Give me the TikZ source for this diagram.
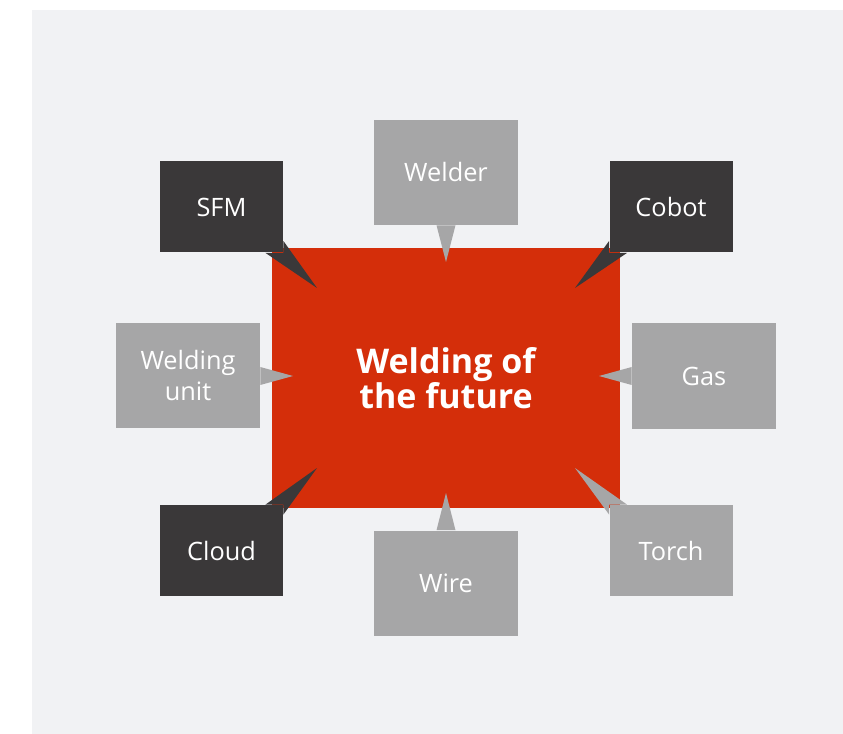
\documentclass[tikz,border=0pt]{standalone}
\usepackage{fontspec}
\setmainfont{Open Sans}
\usetikzlibrary{calc}
\definecolor{panelgray}{RGB}{241,242,244}
\definecolor{weldred}{RGB}{212,46,10}
\definecolor{darkgray}{RGB}{58,56,57}
\definecolor{lightgray}{RGB}{166,166,167}
\tikzset{
    topic/.style={inner sep=0pt,text=white,align=center,font=\fontsize{19}{23.7}\selectfont},
    cornerbox/.style={topic,minimum width=92.25pt,minimum height=68.25pt},
    sidebox/.style={topic,fill=lightgray,minimum width=108pt,minimum height=78.75pt},
}
\begin{document}
\begin{tikzpicture}[x=0.75pt,y=-0.75pt]
        \useasboundingbox (0,0) rectangle (843,734);
        %% Panel
        \fill[panelgray] (32,10) rectangle (843,734);
        %% Centre
        \node[fill=weldred,text=white,inner sep=0pt,minimum width=261pt,minimum height=195pt,align=center,
              font=\fontsize{25.5}{24.5}\bfseries] (core) at (446,378) {Welding of\\the future};
        %% Corner boxes
        \node[cornerbox,fill=darkgray] (sfm) at (221.5,207) {SFM};
        \node[cornerbox,fill=darkgray] (cobot) at (671,207) {Cobot};
        \node[cornerbox,fill=darkgray] (cloud) at (221.5,550.5) {Cloud};
        \node[cornerbox,fill=lightgray] (torch) at (671,550.5) {Torch};
        %% Side boxes
        \node[sidebox] (unit) at (188,375.5) {Welding\\unit};
        \node[sidebox] (gas) at (704,376) {Gas};
        \node[sidebox] (welder) at (446,172.5) {Welder};
        \node[sidebox] (wire) at (446,583) {Wire};
        %% Pointer tips
        \coordinate (tsfm) at (317,288);
        \coordinate (tcobot) at (575,288);
        \coordinate (tcloud) at (317,468);
        \coordinate (ttorch) at (575,468);
        \coordinate (tunit) at (293,376);
        \coordinate (tgas) at (599,376);
        \coordinate (twelder) at (446,262);
        \coordinate (twire) at (446,493);
        %% Pointers
        \fill[darkgray] ($(sfm.south east)+(-18,0)$) -- (sfm.south east) -- ($(sfm.south east)+(0,-12)$) -- (tsfm) -- cycle;
        \fill[darkgray] ($(cobot.south west)+(18,0)$) -- (cobot.south west) -- ($(cobot.south west)+(0,-12)$) -- (tcobot) -- cycle;
        \fill[darkgray] ($(cloud.north east)+(-18,0)$) -- (cloud.north east) -- ($(cloud.north east)+(0,10)$) -- (tcloud) -- cycle;
        \fill[lightgray] ($(torch.north west)+(18,0)$) -- (torch.north west) -- ($(torch.north west)+(0,10)$) -- (ttorch) -- cycle;
        \fill[lightgray] ($(unit.east)+(0,-8.5)$) -- ($(unit.east)+(0,9.5)$) -- (tunit) -- cycle;
        \fill[lightgray] ($(gas.west)+(0,-9)$) -- ($(gas.west)+(0,9)$) -- (tgas) -- cycle;
        \fill[lightgray] ($(welder.south)+(-9.5,0)$) -- ($(welder.south)+(9.5,0)$) -- (twelder) -- cycle;
        \fill[lightgray] ($(wire.north)+(-9.5,0)$) -- ($(wire.north)+(9.5,0)$) -- (twire) -- cycle;
    \end{tikzpicture}
\end{document}
